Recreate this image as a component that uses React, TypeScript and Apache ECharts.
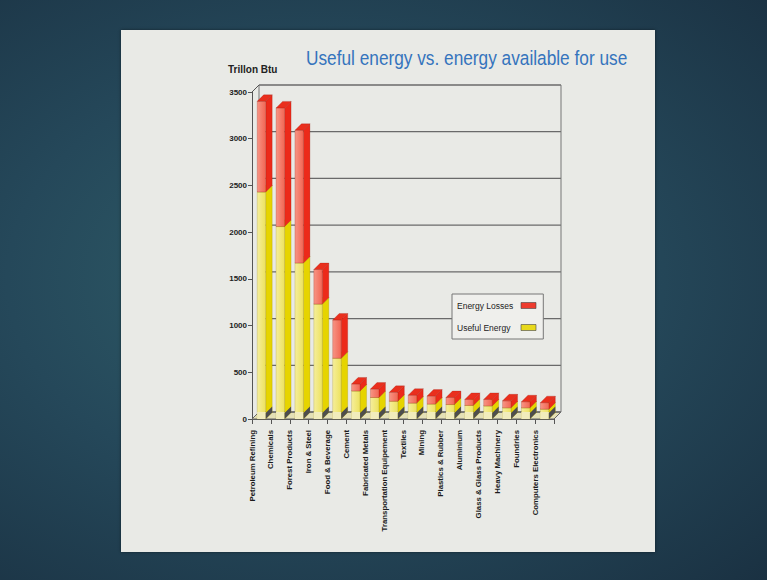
import React, { useEffect, useRef } from "react";
import * as echarts from "echarts";

const chartTitle = "Useful energy vs. energy available for use";
const unitLabel = "Trillon Btu";

const categories = [
  "Petroleum Refining",
  "Chemicals",
  "Forest Products",
  "Iron & Steel",
  "Food & Beverage",
  "Cement",
  "Fabricated Metals",
  "Transportation Equipement",
  "Textiles",
  "Mining",
  "Plastics & Rubber",
  "Aluminium",
  "Glass & Glass Products",
  "Heavy Machinery",
  "Foundries",
  "Computers Electronics",
];

const usefulEnergy = [2430, 2060, 1670, 1230, 650, 300, 230, 190, 170, 160, 155, 145, 140, 120, 120, 105];
const energyLosses = [970, 1270, 1420, 370, 410, 75, 90, 95, 85, 85, 75, 65, 70, 75, 65, 70];

const yTickValues = [0, 500, 1000, 1500, 2000, 2500, 3000, 3500];

const LOSS_NAME = "Energy Losses";
const USEFUL_NAME = "Useful Energy";

// 3D look
const DX = 6.5;
const DY = -6.5;
const WX = 7;
const WY = -7;
const FRONT_W = 8.5;

type Palette = { frontA: string; frontB: string; side: string; top: string; edge: string };

const yellowPal: Palette = { frontA: "#f5ee9c", frontB: "#ede25e", side: "#e6d400", top: "#efe030", edge: "rgba(140,120,0,0.45)" };
const redPal: Palette = { frontA: "#f79585", frontB: "#f26654", side: "#ec2a1a", top: "#ea2f1d", edge: "rgba(140,20,10,0.45)" };

function makeBarRenderer(pal: Palette, withBase: boolean) {
  return (params: any, api: any) => {
    const idx = api.value(0);
    const base = api.value(1);
    const top = api.value(2);
    const p0 = api.coord([idx, base]);
    const p1 = api.coord([idx, top]);
    const cx = p0[0];
    const xl = cx - FRONT_W / 2;
    const xr = xl + FRONT_W;
    const y0 = p0[1];
    const y1 = p1[1];
    const children: any[] = [
      {
        type: "polygon",
        shape: { points: [[xr, y1], [xr + DX, y1 + DY], [xr + DX, y0 + DY], [xr, y0]] },
        style: { fill: pal.side, stroke: pal.edge, lineWidth: 0.5 },
      },
      {
        type: "rect",
        shape: { x: xl, y: y1, width: FRONT_W, height: Math.max(0, y0 - y1) },
        style: {
          fill: new echarts.graphic.LinearGradient(0, 0, 1, 0, [
            { offset: 0, color: pal.frontA },
            { offset: 1, color: pal.frontB },
          ]),
          stroke: pal.edge,
          lineWidth: 0.5,
        },
      },
      {
        type: "polygon",
        shape: { points: [[xl, y1], [xl + DX, y1 + DY], [xr + DX, y1 + DY], [xr, y1]] },
        style: { fill: pal.top, stroke: pal.edge, lineWidth: 0.5 },
      },
    ];
    if (withBase) {
      children.push({
        type: "rect",
        shape: { x: xl, y: y0 - 7, width: FRONT_W, height: 7 },
        style: { fill: "#f1ecbc" },
      });
      children.push({
        type: "polygon",
        shape: { points: [[xr, y0], [xr + DX, y0 + DY], [xr + DX, y0 + DY - 6], [xr, y0 - 6]] },
        style: { fill: "#4d4d4d" },
      });
    }
    return { type: "group", children };
  };
}

const wallRenderer = (params: any, api: any) => {
  const cs = params.coordSys;
  const gx = cs.x;
  const gy = cs.y;
  const gw = cs.width;
  const gh = cs.height;
  const fy = gy + gh;
  const ls = { stroke: "#6a6a6a", lineWidth: 1.3 };
  const children: any[] = [];
  children.push({
    type: "polygon",
    shape: { points: [[gx, fy], [gx + gw, fy], [gx + gw + WX, fy + WY], [gx + WX, fy + WY]] },
    style: { fill: "#e4e0b6", stroke: "#666", lineWidth: 1 },
  });
  for (const v of yTickValues) {
    const y = api.coord([0, v])[1];
    children.push({ type: "line", shape: { x1: gx + WX, y1: y + WY, x2: gx + gw + WX, y2: y + WY }, style: ls });
  }
  children.push({ type: "line", shape: { x1: gx + WX, y1: gy + WY, x2: gx + WX, y2: fy + WY }, style: { stroke: "#777", lineWidth: 1 } });
  children.push({ type: "line", shape: { x1: gx + gw + WX, y1: gy + WY, x2: gx + gw + WX, y2: fy + WY }, style: { stroke: "#777", lineWidth: 1 } });
  children.push({ type: "line", shape: { x1: gx, y1: gy, x2: gx + WX, y2: gy + WY }, style: { stroke: "#555", lineWidth: 1 } });
  return { type: "group", children };
};

export default function App() {
  const ref = useRef<HTMLDivElement>(null);

  useEffect(() => {
    if (!ref.current) return;
    const chart = echarts.init(ref.current, undefined, { renderer: "svg" });
    const font = '"Liberation Sans", Arial, Helvetica, sans-serif';

    chart.setOption({
      animation: false,
      backgroundColor: "transparent",
      textStyle: { fontFamily: font },
      graphic: [
        {
          type: "text",
          x: 306,
          y: 58,
          scaleX: 0.885,
          style: { text: chartTitle, font: `19.5px ${font}`, fill: "#3574bd", verticalAlign: "middle", align: "left" },
        },
        {
          type: "text",
          x: 228,
          y: 69,
          style: { text: unitLabel, font: `bold 10px ${font}`, fill: "#222", verticalAlign: "middle", align: "left" },
        },
      ],
      legend: {
        orient: "vertical",
        left: 452,
        top: 294,
        data: [LOSS_NAME, USEFUL_NAME],
        align: "right",
        icon: "rect",
        itemWidth: 15,
        itemHeight: 6,
        itemGap: 13,
        padding: [7, 7, 7, 5],
        backgroundColor: "#efefec",
        borderColor: "#777",
        borderWidth: 1,
        itemStyle: { borderColor: "#444", borderWidth: 0.6 },
        formatter: (name: string) => `{t|${name}}`,
        textStyle: {
          fontSize: 8.5,
          color: "#222",
          fontFamily: font,
          rich: { t: { width: 59, align: "left", fontSize: 8.5, color: "#222", fontFamily: font } },
        },
        selectedMode: false,
      },
      grid: { left: 252, right: 213, top: 92, bottom: 161, containLabel: false },
      xAxis: [
        {
          type: "category",
          data: categories,
          boundaryGap: true,
          position: "bottom",
          axisLine: { show: true, lineStyle: { color: "#555", width: 1 } },
          axisTick: { show: false },
          axisLabel: { show: false },
          splitLine: { show: false },
        },
        {
          type: "category",
          data: [...categories, ""],
          boundaryGap: false,
          position: "bottom",
          axisLine: { show: false },
          axisTick: { show: true, length: 5, lineStyle: { color: "#555" }, interval: 0 },
          axisLabel: {
            show: true,
            rotate: 90,
            interval: 0,
            margin: 11,
            fontSize: 7.8,
            fontWeight: "bold",
            color: "#1c1c1c",
            fontFamily: font,
          },
          splitLine: { show: false },
        },
      ],
      yAxis: {
        type: "value",
        min: 0,
        max: 3500,
        interval: 500,
        axisLine: { show: true, lineStyle: { color: "#555", width: 1 } },
        axisTick: { show: true, length: 4, lineStyle: { color: "#555" } },
        axisLabel: { fontSize: 8, fontWeight: "bold", color: "#222", margin: 5, formatter: (v: number) => String(v) },
        splitLine: { show: false },
      },
      series: [
        {
          type: "custom",
          name: "wall",
          silent: true,
          clip: false,
          xAxisIndex: 0,
          renderItem: wallRenderer,
          data: [[0, 0]],
          encode: { x: 0, y: 1 },
          z: 1,
        },
        {
          type: "custom",
          name: USEFUL_NAME,
          xAxisIndex: 0,
          clip: false,
          renderItem: makeBarRenderer(yellowPal, true),
          itemStyle: { color: "#e8d91c" },
          data: usefulEnergy.map((v, i) => [i, 0, v]),
          encode: { x: 0, y: [1, 2] },
          z: 3,
        },
        {
          type: "custom",
          name: LOSS_NAME,
          xAxisIndex: 0,
          clip: false,
          renderItem: makeBarRenderer(redPal, false),
          itemStyle: { color: "#ee3b2e" },
          data: energyLosses.map((v, i) => [i, usefulEnergy[i], usefulEnergy[i] + v]),
          encode: { x: 0, y: [1, 2] },
          z: 3,
        },
      ],
    });

    return () => chart.dispose();
  }, []);

  return (
    <div
      style={{
        position: "absolute",
        left: 0,
        top: 0,
        width: 767,
        height: 580,
        overflow: "hidden",
        background: "radial-gradient(ellipse at 42% 48%, #30606a 0%, #25485a 50%, #1a3142 100%)",
      }}
    >
      <div
        style={{
          position: "absolute",
          left: 121,
          top: 30,
          width: 534,
          height: 522,
          background: "#e9eae6",
          boxShadow: "0 0 3px rgba(0,0,0,0.45)",
        }}
      />
      <div ref={ref} style={{ position: "absolute", left: 0, top: 0, width: 767, height: 580 }} />
    </div>
  );
}
